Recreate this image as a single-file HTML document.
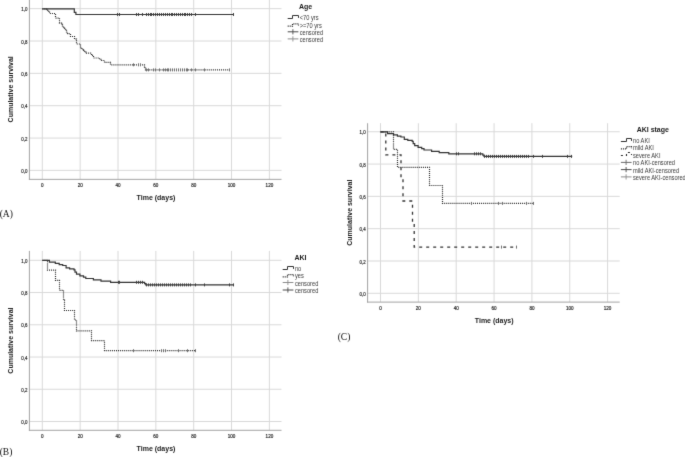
<!DOCTYPE html>
<html><head><meta charset="utf-8"><style>
html,body{margin:0;padding:0;background:#fff;width:685px;height:457px;overflow:hidden;}
svg{display:block;}
text{font-family:"Liberation Sans",sans-serif;}
.tk{font-size:4.9px;fill:#1e1e1e;stroke:#1e1e1e;stroke-width:0.18px;}
.ax{font-size:7px;font-weight:bold;fill:#1a1a1a;}
.lt{font-size:7px;font-weight:bold;fill:#1a1a1a;}
.lg{font-size:5.7px;fill:#3a3a3a;}
.pl{font-family:"Liberation Serif",serif;font-size:9.5px;fill:#111;}
</style></head><body>
<svg width="685" height="457" viewBox="0 0 685 457">
<defs><filter id="bl" x="0" y="0" width="100%" height="100%" filterUnits="userSpaceOnUse" color-interpolation-filters="sRGB"><feConvolveMatrix order="3" kernelMatrix="0.0144 0.12 0.0144 0.12 1 0.12 0.0144 0.12 0.0144" edgeMode="duplicate"/></filter></defs>
<rect width="685" height="457" fill="#fff"/>
<g filter="url(#bl)">
<line x1="29.40" y1="170.40" x2="281.50" y2="170.40" stroke="#d9d9d9" stroke-width="1"/>
<line x1="29.40" y1="138.05" x2="281.50" y2="138.05" stroke="#d9d9d9" stroke-width="1"/>
<line x1="29.40" y1="105.70" x2="281.50" y2="105.70" stroke="#d9d9d9" stroke-width="1"/>
<line x1="29.40" y1="73.35" x2="281.50" y2="73.35" stroke="#d9d9d9" stroke-width="1"/>
<line x1="29.40" y1="41.00" x2="281.50" y2="41.00" stroke="#d9d9d9" stroke-width="1"/>
<line x1="29.40" y1="8.65" x2="281.50" y2="8.65" stroke="#d9d9d9" stroke-width="1"/>
<line x1="42.30" y1="-0.65" x2="42.30" y2="179.35" stroke="#d9d9d9" stroke-width="1"/>
<line x1="80.15" y1="-0.65" x2="80.15" y2="179.35" stroke="#d9d9d9" stroke-width="1"/>
<line x1="118.00" y1="-0.65" x2="118.00" y2="179.35" stroke="#d9d9d9" stroke-width="1"/>
<line x1="155.85" y1="-0.65" x2="155.85" y2="179.35" stroke="#d9d9d9" stroke-width="1"/>
<line x1="193.70" y1="-0.65" x2="193.70" y2="179.35" stroke="#d9d9d9" stroke-width="1"/>
<line x1="231.55" y1="-0.65" x2="231.55" y2="179.35" stroke="#d9d9d9" stroke-width="1"/>
<line x1="269.40" y1="-0.65" x2="269.40" y2="179.35" stroke="#d9d9d9" stroke-width="1"/>
<line x1="29.40" y1="-0.65" x2="29.40" y2="179.85" stroke="#a3a3a3" stroke-width="1"/>
<line x1="28.90" y1="179.35" x2="281.50" y2="179.35" stroke="#a3a3a3" stroke-width="1"/>
<text transform="translate(27.50,173.00) scale(0.9,1.08)" text-anchor="end" class="tk">0,0</text>
<text transform="translate(27.50,140.65) scale(0.9,1.08)" text-anchor="end" class="tk">0,2</text>
<text transform="translate(27.50,108.30) scale(0.9,1.08)" text-anchor="end" class="tk">0,4</text>
<text transform="translate(27.50,75.95) scale(0.9,1.08)" text-anchor="end" class="tk">0,6</text>
<text transform="translate(27.50,43.60) scale(0.9,1.08)" text-anchor="end" class="tk">0,8</text>
<text transform="translate(27.50,11.25) scale(0.9,1.08)" text-anchor="end" class="tk">1,0</text>
<text transform="translate(42.30,187.05) scale(0.93,1.08)" text-anchor="middle" class="tk">0</text>
<text transform="translate(80.15,187.05) scale(0.93,1.08)" text-anchor="middle" class="tk">20</text>
<text transform="translate(118.00,187.05) scale(0.93,1.08)" text-anchor="middle" class="tk">40</text>
<text transform="translate(155.85,187.05) scale(0.93,1.08)" text-anchor="middle" class="tk">60</text>
<text transform="translate(193.70,187.05) scale(0.93,1.08)" text-anchor="middle" class="tk">80</text>
<text transform="translate(231.55,187.05) scale(0.93,1.08)" text-anchor="middle" class="tk">100</text>
<text transform="translate(269.40,187.05) scale(0.93,1.08)" text-anchor="middle" class="tk">120</text>
<text x="156.00" y="200.15" text-anchor="middle" class="ax">Time (days)</text>
<text transform="translate(13.30,89.35) rotate(-90)" text-anchor="middle" class="ax">Cumulative survival</text>
<line x1="29.40" y1="421.50" x2="281.50" y2="421.50" stroke="#d9d9d9" stroke-width="1"/>
<line x1="29.40" y1="389.26" x2="281.50" y2="389.26" stroke="#d9d9d9" stroke-width="1"/>
<line x1="29.40" y1="357.02" x2="281.50" y2="357.02" stroke="#d9d9d9" stroke-width="1"/>
<line x1="29.40" y1="324.78" x2="281.50" y2="324.78" stroke="#d9d9d9" stroke-width="1"/>
<line x1="29.40" y1="292.54" x2="281.50" y2="292.54" stroke="#d9d9d9" stroke-width="1"/>
<line x1="29.40" y1="260.30" x2="281.50" y2="260.30" stroke="#d9d9d9" stroke-width="1"/>
<line x1="42.30" y1="250.90" x2="42.30" y2="430.30" stroke="#d9d9d9" stroke-width="1"/>
<line x1="80.15" y1="250.90" x2="80.15" y2="430.30" stroke="#d9d9d9" stroke-width="1"/>
<line x1="118.00" y1="250.90" x2="118.00" y2="430.30" stroke="#d9d9d9" stroke-width="1"/>
<line x1="155.85" y1="250.90" x2="155.85" y2="430.30" stroke="#d9d9d9" stroke-width="1"/>
<line x1="193.70" y1="250.90" x2="193.70" y2="430.30" stroke="#d9d9d9" stroke-width="1"/>
<line x1="231.55" y1="250.90" x2="231.55" y2="430.30" stroke="#d9d9d9" stroke-width="1"/>
<line x1="269.40" y1="250.90" x2="269.40" y2="430.30" stroke="#d9d9d9" stroke-width="1"/>
<line x1="29.40" y1="250.90" x2="29.40" y2="430.80" stroke="#a3a3a3" stroke-width="1"/>
<line x1="28.90" y1="430.30" x2="281.50" y2="430.30" stroke="#a3a3a3" stroke-width="1"/>
<text transform="translate(27.50,424.10) scale(0.9,1.08)" text-anchor="end" class="tk">0,0</text>
<text transform="translate(27.50,391.86) scale(0.9,1.08)" text-anchor="end" class="tk">0,2</text>
<text transform="translate(27.50,359.62) scale(0.9,1.08)" text-anchor="end" class="tk">0,4</text>
<text transform="translate(27.50,327.38) scale(0.9,1.08)" text-anchor="end" class="tk">0,6</text>
<text transform="translate(27.50,295.14) scale(0.9,1.08)" text-anchor="end" class="tk">0,8</text>
<text transform="translate(27.50,262.90) scale(0.9,1.08)" text-anchor="end" class="tk">1,0</text>
<text transform="translate(42.30,438.00) scale(0.93,1.08)" text-anchor="middle" class="tk">0</text>
<text transform="translate(80.15,438.00) scale(0.93,1.08)" text-anchor="middle" class="tk">20</text>
<text transform="translate(118.00,438.00) scale(0.93,1.08)" text-anchor="middle" class="tk">40</text>
<text transform="translate(155.85,438.00) scale(0.93,1.08)" text-anchor="middle" class="tk">60</text>
<text transform="translate(193.70,438.00) scale(0.93,1.08)" text-anchor="middle" class="tk">80</text>
<text transform="translate(231.55,438.00) scale(0.93,1.08)" text-anchor="middle" class="tk">100</text>
<text transform="translate(269.40,438.00) scale(0.93,1.08)" text-anchor="middle" class="tk">120</text>
<text x="156.00" y="451.10" text-anchor="middle" class="ax">Time (days)</text>
<text transform="translate(13.30,340.60) rotate(-90)" text-anchor="middle" class="ax">Cumulative survival</text>
<line x1="367.60" y1="293.30" x2="619.70" y2="293.30" stroke="#d9d9d9" stroke-width="1"/>
<line x1="367.60" y1="260.99" x2="619.70" y2="260.99" stroke="#d9d9d9" stroke-width="1"/>
<line x1="367.60" y1="228.68" x2="619.70" y2="228.68" stroke="#d9d9d9" stroke-width="1"/>
<line x1="367.60" y1="196.37" x2="619.70" y2="196.37" stroke="#d9d9d9" stroke-width="1"/>
<line x1="367.60" y1="164.06" x2="619.70" y2="164.06" stroke="#d9d9d9" stroke-width="1"/>
<line x1="367.60" y1="131.75" x2="619.70" y2="131.75" stroke="#d9d9d9" stroke-width="1"/>
<line x1="380.50" y1="123.20" x2="380.50" y2="302.10" stroke="#d9d9d9" stroke-width="1"/>
<line x1="418.35" y1="123.20" x2="418.35" y2="302.10" stroke="#d9d9d9" stroke-width="1"/>
<line x1="456.20" y1="123.20" x2="456.20" y2="302.10" stroke="#d9d9d9" stroke-width="1"/>
<line x1="494.05" y1="123.20" x2="494.05" y2="302.10" stroke="#d9d9d9" stroke-width="1"/>
<line x1="531.90" y1="123.20" x2="531.90" y2="302.10" stroke="#d9d9d9" stroke-width="1"/>
<line x1="569.75" y1="123.20" x2="569.75" y2="302.10" stroke="#d9d9d9" stroke-width="1"/>
<line x1="607.60" y1="123.20" x2="607.60" y2="302.10" stroke="#d9d9d9" stroke-width="1"/>
<line x1="367.60" y1="123.20" x2="367.60" y2="302.60" stroke="#a3a3a3" stroke-width="1"/>
<line x1="367.10" y1="302.10" x2="619.70" y2="302.10" stroke="#a3a3a3" stroke-width="1"/>
<text transform="translate(365.70,295.90) scale(0.9,1.08)" text-anchor="end" class="tk">0,0</text>
<text transform="translate(365.70,263.59) scale(0.9,1.08)" text-anchor="end" class="tk">0,2</text>
<text transform="translate(365.70,231.28) scale(0.9,1.08)" text-anchor="end" class="tk">0,4</text>
<text transform="translate(365.70,198.97) scale(0.9,1.08)" text-anchor="end" class="tk">0,6</text>
<text transform="translate(365.70,166.66) scale(0.9,1.08)" text-anchor="end" class="tk">0,8</text>
<text transform="translate(365.70,134.35) scale(0.9,1.08)" text-anchor="end" class="tk">1,0</text>
<text transform="translate(380.50,309.80) scale(0.93,1.08)" text-anchor="middle" class="tk">0</text>
<text transform="translate(418.35,309.80) scale(0.93,1.08)" text-anchor="middle" class="tk">20</text>
<text transform="translate(456.20,309.80) scale(0.93,1.08)" text-anchor="middle" class="tk">40</text>
<text transform="translate(494.05,309.80) scale(0.93,1.08)" text-anchor="middle" class="tk">60</text>
<text transform="translate(531.90,309.80) scale(0.93,1.08)" text-anchor="middle" class="tk">80</text>
<text transform="translate(569.75,309.80) scale(0.93,1.08)" text-anchor="middle" class="tk">100</text>
<text transform="translate(607.60,309.80) scale(0.93,1.08)" text-anchor="middle" class="tk">120</text>
<text x="494.20" y="322.90" text-anchor="middle" class="ax">Time (days)</text>
<text transform="translate(351.50,212.65) rotate(-90)" text-anchor="middle" class="ax">Cumulative survival</text>
<path d="M42.30,8.80 L46.50,8.80 L46.50,9.90 L47.50,9.90 L47.50,11.00 L48.50,11.00 L48.50,12.20 L49.50,12.20 L49.50,13.50 L55.50,13.50 L55.50,18.10 L59.50,18.10 L59.50,23.10 L61.50,23.10 L61.50,24.40 L62.50,24.40 L62.50,26.00 L63.50,26.00 L63.50,27.20 L64.50,27.20 L64.50,28.40 L65.50,28.40 L65.50,29.60 L66.50,29.60 L66.50,30.80 L66.50,30.80 L66.50,32.00 L67.50,32.00 L67.50,33.70 L70.50,33.70 L70.50,36.50 L74.50,36.50 L74.50,39.10 L76.50,39.10 L76.50,44.00 L80.50,44.00 L80.50,48.30 L81.50,48.30 L81.50,49.00 L82.50,49.00 L82.50,49.70 L83.50,49.70 L83.50,50.40 L84.50,50.40 L84.50,51.10 L85.50,51.10 L85.50,51.80 L86.50,51.80 L86.50,52.50 L86.50,52.50 L86.50,53.20 L91.50,53.20 L91.50,55.40 L93.50,55.40 L93.50,58.00 L99.50,58.00 L99.50,59.30 L101.50,59.30 L101.50,60.50 L104.50,60.50 L104.50,62.40 L110.50,62.40 L110.50,64.80 L144.50,64.80 L144.50,67.10 L145.50,67.10 L145.50,69.90 L230.00,69.90" fill="none" stroke="#262626" stroke-width="1.2" stroke-dasharray="1 1.05"/>
<line x1="133.50" y1="63.30" x2="133.50" y2="66.30" stroke="#707070" stroke-width="1"/><line x1="138.50" y1="63.30" x2="138.50" y2="66.30" stroke="#707070" stroke-width="1"/><line x1="140.50" y1="63.30" x2="140.50" y2="66.30" stroke="#707070" stroke-width="1"/>
<line x1="146.50" y1="68.40" x2="146.50" y2="71.40" stroke="#707070" stroke-width="1"/><line x1="148.50" y1="68.40" x2="148.50" y2="71.40" stroke="#707070" stroke-width="1"/><line x1="153.50" y1="68.40" x2="153.50" y2="71.40" stroke="#707070" stroke-width="1"/><line x1="155.50" y1="68.40" x2="155.50" y2="71.40" stroke="#707070" stroke-width="1"/><line x1="159.50" y1="68.40" x2="159.50" y2="71.40" stroke="#707070" stroke-width="1"/><line x1="163.50" y1="68.40" x2="163.50" y2="71.40" stroke="#707070" stroke-width="1"/><line x1="165.50" y1="68.40" x2="165.50" y2="71.40" stroke="#707070" stroke-width="1"/><line x1="167.50" y1="68.40" x2="167.50" y2="71.40" stroke="#707070" stroke-width="1"/><line x1="168.50" y1="68.40" x2="168.50" y2="71.40" stroke="#707070" stroke-width="1"/><line x1="170.50" y1="68.40" x2="170.50" y2="71.40" stroke="#707070" stroke-width="1"/><line x1="172.50" y1="68.40" x2="172.50" y2="71.40" stroke="#707070" stroke-width="1"/><line x1="174.50" y1="68.40" x2="174.50" y2="71.40" stroke="#707070" stroke-width="1"/><line x1="176.50" y1="68.40" x2="176.50" y2="71.40" stroke="#707070" stroke-width="1"/><line x1="178.50" y1="68.40" x2="178.50" y2="71.40" stroke="#707070" stroke-width="1"/><line x1="180.50" y1="68.40" x2="180.50" y2="71.40" stroke="#707070" stroke-width="1"/><line x1="182.50" y1="68.40" x2="182.50" y2="71.40" stroke="#707070" stroke-width="1"/><line x1="184.50" y1="68.40" x2="184.50" y2="71.40" stroke="#707070" stroke-width="1"/><line x1="186.50" y1="68.40" x2="186.50" y2="71.40" stroke="#707070" stroke-width="1"/><line x1="187.50" y1="68.40" x2="187.50" y2="71.40" stroke="#707070" stroke-width="1"/><line x1="191.50" y1="68.40" x2="191.50" y2="71.40" stroke="#707070" stroke-width="1"/><line x1="195.50" y1="68.40" x2="195.50" y2="71.40" stroke="#707070" stroke-width="1"/><line x1="204.50" y1="68.40" x2="204.50" y2="71.40" stroke="#707070" stroke-width="1"/><line x1="229.50" y1="68.40" x2="229.50" y2="71.40" stroke="#707070" stroke-width="1"/>
<path d="M42.30,8.80 L74.30,8.80 L74.30,12.40 L75.90,12.40 L75.90,14.50 L234.00,14.50" fill="none" stroke="#333333" stroke-width="1.2"/>
<line x1="117.50" y1="13.00" x2="117.50" y2="16.00" stroke="#404040" stroke-width="1"/><line x1="119.50" y1="13.00" x2="119.50" y2="16.00" stroke="#404040" stroke-width="1"/><line x1="136.50" y1="13.00" x2="136.50" y2="16.00" stroke="#404040" stroke-width="1"/><line x1="138.50" y1="13.00" x2="138.50" y2="16.00" stroke="#404040" stroke-width="1"/><line x1="142.50" y1="13.00" x2="142.50" y2="16.00" stroke="#404040" stroke-width="1"/><line x1="146.50" y1="13.00" x2="146.50" y2="16.00" stroke="#404040" stroke-width="1"/><line x1="148.50" y1="13.00" x2="148.50" y2="16.00" stroke="#404040" stroke-width="1"/><line x1="150.50" y1="13.00" x2="150.50" y2="16.00" stroke="#404040" stroke-width="1"/><line x1="151.50" y1="13.00" x2="151.50" y2="16.00" stroke="#404040" stroke-width="1"/><line x1="153.50" y1="13.00" x2="153.50" y2="16.00" stroke="#404040" stroke-width="1"/><line x1="155.50" y1="13.00" x2="155.50" y2="16.00" stroke="#404040" stroke-width="1"/><line x1="157.50" y1="13.00" x2="157.50" y2="16.00" stroke="#404040" stroke-width="1"/><line x1="159.50" y1="13.00" x2="159.50" y2="16.00" stroke="#404040" stroke-width="1"/><line x1="161.50" y1="13.00" x2="161.50" y2="16.00" stroke="#404040" stroke-width="1"/><line x1="163.50" y1="13.00" x2="163.50" y2="16.00" stroke="#404040" stroke-width="1"/><line x1="165.50" y1="13.00" x2="165.50" y2="16.00" stroke="#404040" stroke-width="1"/><line x1="167.50" y1="13.00" x2="167.50" y2="16.00" stroke="#404040" stroke-width="1"/><line x1="169.50" y1="13.00" x2="169.50" y2="16.00" stroke="#404040" stroke-width="1"/><line x1="171.50" y1="13.00" x2="171.50" y2="16.00" stroke="#404040" stroke-width="1"/><line x1="172.50" y1="13.00" x2="172.50" y2="16.00" stroke="#404040" stroke-width="1"/><line x1="174.50" y1="13.00" x2="174.50" y2="16.00" stroke="#404040" stroke-width="1"/><line x1="176.50" y1="13.00" x2="176.50" y2="16.00" stroke="#404040" stroke-width="1"/><line x1="178.50" y1="13.00" x2="178.50" y2="16.00" stroke="#404040" stroke-width="1"/><line x1="180.50" y1="13.00" x2="180.50" y2="16.00" stroke="#404040" stroke-width="1"/><line x1="182.50" y1="13.00" x2="182.50" y2="16.00" stroke="#404040" stroke-width="1"/><line x1="184.50" y1="13.00" x2="184.50" y2="16.00" stroke="#404040" stroke-width="1"/><line x1="185.50" y1="13.00" x2="185.50" y2="16.00" stroke="#404040" stroke-width="1"/><line x1="187.50" y1="13.00" x2="187.50" y2="16.00" stroke="#404040" stroke-width="1"/><line x1="189.50" y1="13.00" x2="189.50" y2="16.00" stroke="#404040" stroke-width="1"/><line x1="191.50" y1="13.00" x2="191.50" y2="16.00" stroke="#404040" stroke-width="1"/><line x1="195.50" y1="13.00" x2="195.50" y2="16.00" stroke="#404040" stroke-width="1"/><line x1="233.50" y1="13.00" x2="233.50" y2="16.00" stroke="#404040" stroke-width="1"/>
<path d="M42.40,260.30 L47.50,260.30 L47.50,270.10 L55.50,270.10 L55.50,280.30 L59.50,280.30 L59.50,290.30 L63.50,290.30 L63.50,300.20 L64.50,300.20 L64.50,310.50 L74.50,310.50 L74.50,320.00 L76.50,320.00 L76.50,330.80 L91.50,330.80 L91.50,340.70 L104.50,340.70 L104.50,350.70 L195.60,350.70" fill="none" stroke="#262626" stroke-width="1.2" stroke-dasharray="1 1.05"/>
<line x1="133.50" y1="349.20" x2="133.50" y2="352.20" stroke="#707070" stroke-width="1"/><line x1="161.50" y1="349.20" x2="161.50" y2="352.20" stroke="#707070" stroke-width="1"/><line x1="163.50" y1="349.20" x2="163.50" y2="352.20" stroke="#707070" stroke-width="1"/><line x1="165.50" y1="349.20" x2="165.50" y2="352.20" stroke="#707070" stroke-width="1"/><line x1="178.50" y1="349.20" x2="178.50" y2="352.20" stroke="#707070" stroke-width="1"/><line x1="187.50" y1="349.20" x2="187.50" y2="352.20" stroke="#707070" stroke-width="1"/><line x1="195.50" y1="349.20" x2="195.50" y2="352.20" stroke="#707070" stroke-width="1"/>
<path d="M42.40,260.30 L49.40,260.30 L49.40,262.10 L55.30,262.10 L55.30,263.40 L59.20,263.40 L59.20,264.60 L62.70,264.60 L62.70,265.50 L66.10,265.50 L66.10,267.80 L69.60,267.80 L69.60,268.80 L74.00,268.80 L74.00,269.80 L75.00,269.80 L75.00,272.20 L76.50,272.20 L76.50,274.20 L79.90,274.20 L79.90,275.80 L83.50,275.80 L83.50,277.20 L85.80,277.20 L85.80,278.50 L93.40,278.50 L93.40,279.90 L101.00,279.90 L101.00,281.10 L110.60,281.10 L110.60,282.30 L144.60,282.30 L144.60,283.60 L145.80,283.60 L145.80,284.90 L234.00,284.90" fill="none" stroke="#333333" stroke-width="1.2"/>
<line x1="118.50" y1="280.80" x2="118.50" y2="283.80" stroke="#404040" stroke-width="1"/><line x1="119.50" y1="280.80" x2="119.50" y2="283.80" stroke="#404040" stroke-width="1"/><line x1="136.50" y1="280.80" x2="136.50" y2="283.80" stroke="#404040" stroke-width="1"/><line x1="138.50" y1="280.80" x2="138.50" y2="283.80" stroke="#404040" stroke-width="1"/><line x1="140.50" y1="280.80" x2="140.50" y2="283.80" stroke="#404040" stroke-width="1"/><line x1="142.50" y1="280.80" x2="142.50" y2="283.80" stroke="#404040" stroke-width="1"/>
<line x1="146.50" y1="283.40" x2="146.50" y2="286.40" stroke="#404040" stroke-width="1"/><line x1="148.50" y1="283.40" x2="148.50" y2="286.40" stroke="#404040" stroke-width="1"/><line x1="150.50" y1="283.40" x2="150.50" y2="286.40" stroke="#404040" stroke-width="1"/><line x1="152.50" y1="283.40" x2="152.50" y2="286.40" stroke="#404040" stroke-width="1"/><line x1="154.50" y1="283.40" x2="154.50" y2="286.40" stroke="#404040" stroke-width="1"/><line x1="156.50" y1="283.40" x2="156.50" y2="286.40" stroke="#404040" stroke-width="1"/><line x1="158.50" y1="283.40" x2="158.50" y2="286.40" stroke="#404040" stroke-width="1"/><line x1="160.50" y1="283.40" x2="160.50" y2="286.40" stroke="#404040" stroke-width="1"/><line x1="162.50" y1="283.40" x2="162.50" y2="286.40" stroke="#404040" stroke-width="1"/><line x1="164.50" y1="283.40" x2="164.50" y2="286.40" stroke="#404040" stroke-width="1"/><line x1="166.50" y1="283.40" x2="166.50" y2="286.40" stroke="#404040" stroke-width="1"/><line x1="168.50" y1="283.40" x2="168.50" y2="286.40" stroke="#404040" stroke-width="1"/><line x1="170.50" y1="283.40" x2="170.50" y2="286.40" stroke="#404040" stroke-width="1"/><line x1="172.50" y1="283.40" x2="172.50" y2="286.40" stroke="#404040" stroke-width="1"/><line x1="174.50" y1="283.40" x2="174.50" y2="286.40" stroke="#404040" stroke-width="1"/><line x1="176.50" y1="283.40" x2="176.50" y2="286.40" stroke="#404040" stroke-width="1"/><line x1="178.50" y1="283.40" x2="178.50" y2="286.40" stroke="#404040" stroke-width="1"/><line x1="180.50" y1="283.40" x2="180.50" y2="286.40" stroke="#404040" stroke-width="1"/><line x1="182.50" y1="283.40" x2="182.50" y2="286.40" stroke="#404040" stroke-width="1"/><line x1="184.50" y1="283.40" x2="184.50" y2="286.40" stroke="#404040" stroke-width="1"/><line x1="186.50" y1="283.40" x2="186.50" y2="286.40" stroke="#404040" stroke-width="1"/><line x1="188.50" y1="283.40" x2="188.50" y2="286.40" stroke="#404040" stroke-width="1"/><line x1="190.50" y1="283.40" x2="190.50" y2="286.40" stroke="#404040" stroke-width="1"/><line x1="195.50" y1="283.40" x2="195.50" y2="286.40" stroke="#404040" stroke-width="1"/><line x1="204.50" y1="283.40" x2="204.50" y2="286.40" stroke="#404040" stroke-width="1"/><line x1="229.50" y1="283.40" x2="229.50" y2="286.40" stroke="#404040" stroke-width="1"/><line x1="233.50" y1="283.40" x2="233.50" y2="286.40" stroke="#404040" stroke-width="1"/>
<path d="M380.50,131.80 L393.50,131.80 L393.50,149.30 L397.50,149.30 L397.50,167.30 L429.50,167.30 L429.50,185.50 L442.50,185.50 L442.50,203.40 L534.30,203.40" fill="none" stroke="#262626" stroke-width="1.2" stroke-dasharray="1 1.05"/>
<line x1="471.50" y1="201.90" x2="471.50" y2="204.90" stroke="#707070" stroke-width="1"/><line x1="498.50" y1="201.90" x2="498.50" y2="204.90" stroke="#707070" stroke-width="1"/><line x1="502.50" y1="201.90" x2="502.50" y2="204.90" stroke="#707070" stroke-width="1"/><line x1="526.50" y1="201.90" x2="526.50" y2="204.90" stroke="#707070" stroke-width="1"/><line x1="533.50" y1="201.90" x2="533.50" y2="204.90" stroke="#707070" stroke-width="1"/>
<path d="M380.50,131.80 L385.80,131.80 L385.80,154.90 L401.00,154.90 L401.00,178.00 L403.00,178.00 L403.00,201.00 L412.50,201.00 L412.50,224.00 L414.20,224.00 L414.20,247.10 L517.20,247.10" fill="none" stroke="#333333" stroke-width="1.3" stroke-dasharray="3 4"/>
<line x1="501.50" y1="245.60" x2="501.50" y2="248.60" stroke="#707070" stroke-width="1"/><line x1="516.50" y1="245.60" x2="516.50" y2="248.60" stroke="#707070" stroke-width="1"/>
<path d="M380.50,131.80 L387.60,131.80 L387.60,133.60 L393.50,133.60 L393.50,134.90 L397.40,134.90 L397.40,136.10 L400.90,136.10 L400.90,137.00 L404.30,137.00 L404.30,139.30 L407.80,139.30 L407.80,140.30 L412.20,140.30 L412.20,141.30 L413.20,141.30 L413.20,143.70 L414.70,143.70 L414.70,145.70 L418.10,145.70 L418.10,147.30 L421.70,147.30 L421.70,148.70 L424.00,148.70 L424.00,150.00 L431.60,150.00 L431.60,151.40 L439.20,151.40 L439.20,152.60 L448.80,152.60 L448.80,153.80 L482.80,153.80 L482.80,155.10 L484.00,155.10 L484.00,156.40 L572.20,156.40" fill="none" stroke="#333333" stroke-width="1.2"/>
<line x1="456.50" y1="152.30" x2="456.50" y2="155.30" stroke="#404040" stroke-width="1"/><line x1="458.50" y1="152.30" x2="458.50" y2="155.30" stroke="#404040" stroke-width="1"/><line x1="474.50" y1="152.30" x2="474.50" y2="155.30" stroke="#404040" stroke-width="1"/><line x1="476.50" y1="152.30" x2="476.50" y2="155.30" stroke="#404040" stroke-width="1"/><line x1="478.50" y1="152.30" x2="478.50" y2="155.30" stroke="#404040" stroke-width="1"/><line x1="480.50" y1="152.30" x2="480.50" y2="155.30" stroke="#404040" stroke-width="1"/>
<line x1="484.50" y1="154.90" x2="484.50" y2="157.90" stroke="#404040" stroke-width="1"/><line x1="486.50" y1="154.90" x2="486.50" y2="157.90" stroke="#404040" stroke-width="1"/><line x1="488.50" y1="154.90" x2="488.50" y2="157.90" stroke="#404040" stroke-width="1"/><line x1="490.50" y1="154.90" x2="490.50" y2="157.90" stroke="#404040" stroke-width="1"/><line x1="492.50" y1="154.90" x2="492.50" y2="157.90" stroke="#404040" stroke-width="1"/><line x1="494.50" y1="154.90" x2="494.50" y2="157.90" stroke="#404040" stroke-width="1"/><line x1="496.50" y1="154.90" x2="496.50" y2="157.90" stroke="#404040" stroke-width="1"/><line x1="498.50" y1="154.90" x2="498.50" y2="157.90" stroke="#404040" stroke-width="1"/><line x1="500.50" y1="154.90" x2="500.50" y2="157.90" stroke="#404040" stroke-width="1"/><line x1="502.50" y1="154.90" x2="502.50" y2="157.90" stroke="#404040" stroke-width="1"/><line x1="504.50" y1="154.90" x2="504.50" y2="157.90" stroke="#404040" stroke-width="1"/><line x1="506.50" y1="154.90" x2="506.50" y2="157.90" stroke="#404040" stroke-width="1"/><line x1="508.50" y1="154.90" x2="508.50" y2="157.90" stroke="#404040" stroke-width="1"/><line x1="510.50" y1="154.90" x2="510.50" y2="157.90" stroke="#404040" stroke-width="1"/><line x1="512.50" y1="154.90" x2="512.50" y2="157.90" stroke="#404040" stroke-width="1"/><line x1="514.50" y1="154.90" x2="514.50" y2="157.90" stroke="#404040" stroke-width="1"/><line x1="516.50" y1="154.90" x2="516.50" y2="157.90" stroke="#404040" stroke-width="1"/><line x1="518.50" y1="154.90" x2="518.50" y2="157.90" stroke="#404040" stroke-width="1"/><line x1="520.50" y1="154.90" x2="520.50" y2="157.90" stroke="#404040" stroke-width="1"/><line x1="522.50" y1="154.90" x2="522.50" y2="157.90" stroke="#404040" stroke-width="1"/><line x1="524.50" y1="154.90" x2="524.50" y2="157.90" stroke="#404040" stroke-width="1"/><line x1="526.50" y1="154.90" x2="526.50" y2="157.90" stroke="#404040" stroke-width="1"/><line x1="528.50" y1="154.90" x2="528.50" y2="157.90" stroke="#404040" stroke-width="1"/><line x1="533.50" y1="154.90" x2="533.50" y2="157.90" stroke="#404040" stroke-width="1"/><line x1="542.50" y1="154.90" x2="542.50" y2="157.90" stroke="#404040" stroke-width="1"/><line x1="567.50" y1="154.90" x2="567.50" y2="157.90" stroke="#404040" stroke-width="1"/><line x1="571.50" y1="154.90" x2="571.50" y2="157.90" stroke="#404040" stroke-width="1"/>
<text x="305.60" y="9.30" text-anchor="middle" class="lt">Age</text>
<path d="M287.70,18.50 L292.50,18.50 L292.50,15.50 L298.50,15.50 L298.50,17.90" fill="none" stroke="#333333" stroke-width="1.0"/>
<text transform="translate(299.70,20.30) scale(1,1.17)" class="lg">&lt;70 yrs</text>
<path d="M287.70,26.10 L292.50,26.10 L292.50,23.80 L298.50,23.80 L298.50,25.50" fill="none" stroke="#1a1a1a" stroke-width="1.15" stroke-dasharray="1 1"/>
<text transform="translate(299.70,27.50) scale(1,1.17)" class="lg">&gt;=70 yrs</text>
<line x1="287.70" y1="31.80" x2="298.40" y2="31.80" stroke="#4a4a4a" stroke-width="1"/>
<line x1="292.90" y1="29.20" x2="292.90" y2="34.40" stroke="#4a4a4a" stroke-width="0.9"/>
<text transform="translate(299.70,34.80) scale(1,1.17)" class="lg">censored</text>
<line x1="287.70" y1="38.90" x2="298.40" y2="38.90" stroke="#8c8c8c" stroke-width="1"/>
<line x1="292.90" y1="36.30" x2="292.90" y2="41.50" stroke="#8c8c8c" stroke-width="0.9"/>
<text transform="translate(299.70,41.90) scale(1,1.17)" class="lg">censored</text>
<text x="300.50" y="260.40" text-anchor="middle" class="lt">AKI</text>
<path d="M282.70,269.50 L287.50,269.50 L287.50,266.50 L293.50,266.50 L293.50,268.90" fill="none" stroke="#333333" stroke-width="1.0"/>
<text transform="translate(294.90,271.20) scale(1,1.17)" class="lg">no</text>
<path d="M282.70,276.90 L287.50,276.90 L287.50,274.60 L293.50,274.60 L293.50,276.30" fill="none" stroke="#1a1a1a" stroke-width="1.15" stroke-dasharray="1 1"/>
<text transform="translate(294.90,278.30) scale(1,1.17)" class="lg">yes</text>
<line x1="282.70" y1="282.50" x2="293.40" y2="282.50" stroke="#8c8c8c" stroke-width="1"/>
<line x1="287.90" y1="279.90" x2="287.90" y2="285.10" stroke="#8c8c8c" stroke-width="0.9"/>
<text transform="translate(294.90,285.50) scale(1,1.17)" class="lg">censored</text>
<line x1="282.70" y1="290.00" x2="293.40" y2="290.00" stroke="#4a4a4a" stroke-width="1"/>
<line x1="287.90" y1="287.40" x2="287.90" y2="292.60" stroke="#4a4a4a" stroke-width="0.9"/>
<text transform="translate(294.90,293.00) scale(1,1.17)" class="lg">censored</text>
<text x="652.80" y="132.30" text-anchor="middle" class="lt">AKI stage</text>
<path d="M620.90,141.50 L626.50,141.50 L626.50,138.50 L631.50,138.50 L631.50,140.90" fill="none" stroke="#333333" stroke-width="1.0"/>
<text transform="translate(633.00,143.10) scale(1,1.17)" class="lg">no AKI</text>
<path d="M620.90,148.90 L626.50,148.90 L626.50,146.60 L631.50,146.60 L631.50,148.30" fill="none" stroke="#1a1a1a" stroke-width="1.15" stroke-dasharray="1 1"/>
<text transform="translate(633.00,150.30) scale(1,1.17)" class="lg">mild AKI</text>
<path d="M620.90,155.50 L626.50,155.50 L626.50,152.50 L631.50,152.50 L631.50,154.90" fill="none" stroke="#2a2a2a" stroke-width="1.1" stroke-dasharray="2 3"/>
<text transform="translate(633.00,157.70) scale(1,1.17)" class="lg">severe AKI</text>
<line x1="620.90" y1="162.40" x2="631.60" y2="162.40" stroke="#6a6a6a" stroke-width="1"/>
<line x1="626.10" y1="159.80" x2="626.10" y2="165.00" stroke="#6a6a6a" stroke-width="0.9"/>
<text transform="translate(633.00,165.40) scale(1,1.17)" class="lg">no AKI-censored</text>
<line x1="620.90" y1="169.60" x2="631.60" y2="169.60" stroke="#4a4a4a" stroke-width="1"/>
<line x1="626.10" y1="167.00" x2="626.10" y2="172.20" stroke="#4a4a4a" stroke-width="0.9"/>
<text transform="translate(633.00,172.60) scale(1,1.17)" class="lg">mild AKI-censored</text>
<line x1="620.90" y1="176.90" x2="631.60" y2="176.90" stroke="#8c8c8c" stroke-width="1"/>
<line x1="626.10" y1="174.30" x2="626.10" y2="179.50" stroke="#8c8c8c" stroke-width="0.9"/>
<text transform="translate(633.00,179.90) scale(1,1.17)" class="lg">severe AKI-censored</text>
<text x="-0.3" y="216.7" class="pl">(A)</text>
<text x="-0.3" y="454.5" class="pl">(B)</text>
<text x="337.7" y="339.7" class="pl">(C)</text>
</g>
</svg>
</body></html>
